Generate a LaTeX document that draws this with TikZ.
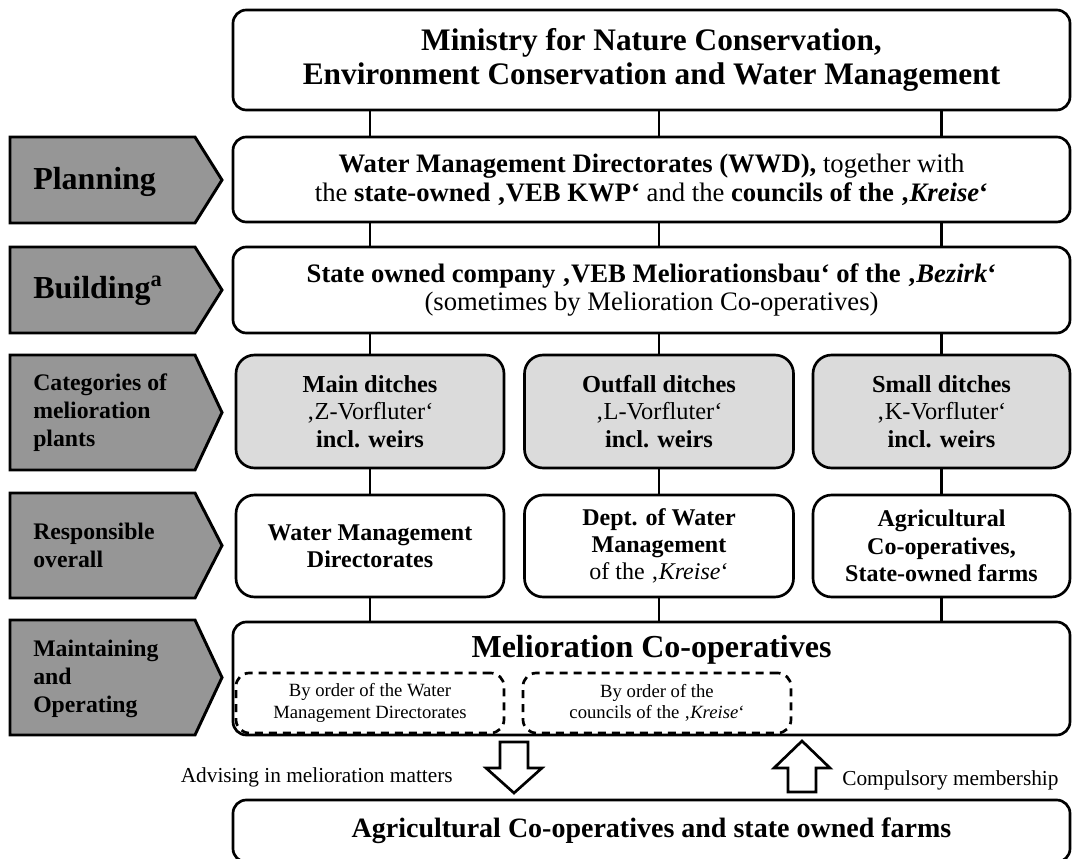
\documentclass[tikz,border=0pt]{standalone}
\usepackage{fontspec}
\setmainfont{Liberation Serif}
\usetikzlibrary{positioning,calc}
\definecolor{catgray}{gray}{0.86}
\definecolor{stagegray}{gray}{0.59}
\tikzset{
  orgbox/.style={draw, line width=2pt, rounded corners=10pt, fill=white, align=center, inner sep=2pt},
  widebox/.style={orgbox, minimum width=627.75pt},
  catbox/.style={orgbox, fill=catgray, rounded corners=14pt, minimum height=84.75pt, font=\fontsize{18.3}{20.5}\selectfont},
  respbox/.style={orgbox, rounded corners=14pt, minimum height=76.5pt, font=\fontsize{18}{20.5}\selectfont},
  stage/.style={draw, line width=2.2pt, fill=stagegray, line join=miter},
  stagetext/.style={anchor=west, align=left, inner sep=0pt, font=\fontsize{17.8}{21}\selectfont\bfseries},
  link/.style={line width=1.6pt},
  orderbox/.style={draw, line width=2pt, dash pattern=on 6pt off 4.5pt, rounded corners=10pt, minimum width=201pt, minimum height=45pt, align=center, font=\fontsize{14}{16}\selectfont},
  blockarrow/.style={draw, line width=2pt, fill=white, line join=miter},
  sidenote/.style={font=\fontsize{16}{18}\selectfont, inner sep=0pt}
}
\begin{document}
\begin{tikzpicture}[x=0.75pt, y=-0.75pt]
    \useasboundingbox (0,0) rectangle (1072,859);

    % stages on the left
    \draw[stage] (10,137) -- (195,137) -- (222,180) -- (195,223) -- (10,223) -- cycle;
    \node[stagetext, font=\fontsize{24}{28}\selectfont\bfseries] (planning) at (33,182) {Planning};
    \draw[stage] (10,247) -- (195,247) -- (222,290) -- (195,333) -- (10,333) -- cycle;
    \node[stagetext, font=\fontsize{24}{28}\selectfont\bfseries] (building) at (33,291) {Building\textsuperscript{a}};
    \draw[stage] (10,355) -- (195,355) -- (222,412.5) -- (195,470) -- (10,470) -- cycle;
    \node[stagetext] (categories) at (33,412.5) {Categories of\\melioration\\plants};
    \draw[stage] (10,493) -- (195,493) -- (222,545.5) -- (195,598) -- (10,598) -- cycle;
    \node[stagetext] (responsible) at (33,545.5) {Responsible\\overall};
    \draw[stage] (10,620) -- (195,620) -- (222,677.5) -- (195,735) -- (10,735) -- cycle;
    \node[stagetext] (maintaining) at (33,679) {Maintaining\\and\\Operating};

    % levels
    \node[widebox, minimum height=75pt, font=\fontsize{23.5}{25}\selectfont\bfseries] (ministry) at (651.5,60)
        {Ministry for Nature Conservation,\\Environment Conservation and Water Management};
    \node[widebox, minimum height=63.75pt, font=\fontsize{20}{21.5}\selectfont] (plan) at (651.5,179.5)
        {\textbf{Water Management Directorates (WWD),} together with\\the \textbf{state-owned ‚VEB KWP‘} and the \textbf{councils of the ‚\textit{Kreise}‘}};
    \node[widebox, minimum height=64.5pt, font=\fontsize{20}{21.5}\selectfont] (build) at (651.5,290)
        {\textbf{State owned company ‚VEB Meliorationsbau‘ of the ‚\textit{Bezirk}‘}\\(sometimes by Melioration Co-operatives)};

    \node[catbox, minimum width=201pt] (main) at (370,411.5) {\textbf{Main ditches}\\‚Z-Vorfluter‘\\\textbf{incl. weirs}};
    \node[catbox, minimum width=201.75pt] (outfall) at (659,411.5) {\textbf{Outfall ditches}\\‚L-Vorfluter‘\\\textbf{incl. weirs}};
    \node[catbox, minimum width=192.75pt] (small) at (941.5,411.5) {\textbf{Small ditches}\\‚K-Vorfluter‘\\\textbf{incl. weirs}};

    \node[respbox, minimum width=201pt] (wmd) at (370,546) {\textbf{Water Management}\\\textbf{Directorates}};
    \node[respbox, minimum width=201.75pt] (dept) at (659,546) {\textbf{Dept. of Water}\\\textbf{Management}\\of the ‚\textit{Kreise}‘};
    \node[respbox, minimum width=192.75pt] (farms) at (941.5,546) {\textbf{Agricultural}\\\textbf{Co-operatives,}\\\textbf{State-owned farms}};

    \node[widebox, minimum height=84.75pt] (mel) at (651.5,678.5) {};
    \node[font=\fontsize{24}{27}\selectfont\bfseries] (meltitle) at (651.5,650) {Melioration Co-operatives};
    \node[orderbox] (wmdorder) at (370,703) {By order of the Water\\Management Directorates};
    \node[orderbox] (kreiseorder) at (657,703) {By order of the\\councils of the ‚\textit{Kreise}‘};

    \node[widebox, minimum height=46.5pt, font=\fontsize{21}{25}\selectfont\bfseries] (agri) at (651.5,831)
        {Agricultural Co-operatives and state owned farms};

    % vertical links
    \foreach \c in {main,outfall,small}{
        \draw[link] (ministry.south -| \c) -- (plan.north -| \c);
        \draw[link] (plan.south -| \c) -- (build.north -| \c);
        \draw[link] (build.south -| \c) -- (\c.north);
    }
    \draw[link] (main) -- (wmd);
    \draw[link] (outfall) -- (dept);
    \draw[link] (small) -- (farms);
    \draw[link] (wmd.south) -- (mel.north -| wmd);
    \draw[link] (dept.south) -- (mel.north -| dept);
    \draw[link] (farms.south) -- (mel.north -| farms);

    % block arrows between melioration co-operatives and farms
    \coordinate (advtop) at (514,742);
    \draw[blockarrow] (advtop) ++(-14,0) -- ++(28,0) -- ++(0,26) -- ++(14,0) -- ++(-28,25) -- ++(-28,-25) -- ++(14,0) -- cycle;
    \coordinate (comptip) at (802,741);
    \draw[blockarrow] (comptip) -- ++(28,27) -- ++(-14,0) -- ++(0,24) -- ++(-28,0) -- ++(0,-24) -- ++(-14,0) -- cycle;

    \node[sidenote, anchor=east] (advise) at (453,777) {Advising in melioration matters};
    \node[sidenote, anchor=west] (member) at (842,780) {Compulsory membership};
\end{tikzpicture}
\end{document}
